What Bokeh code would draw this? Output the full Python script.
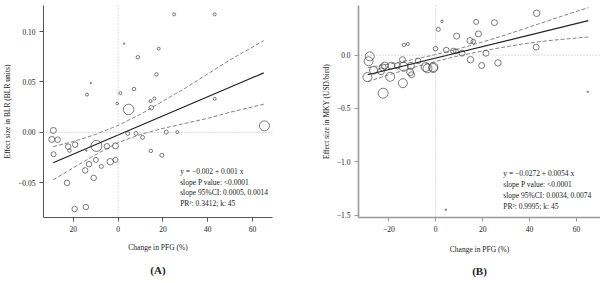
from bokeh.plotting import figure
from bokeh.models import Span, Label, Title, FixedTicker, Range1d
from bokeh.layouts import row
from bokeh.embed import file_html
from bokeh.resources import INLINE

# ---------------- Panel A data ----------------
a_pfg = [25.0, 43.1, 2.7, 18.1, 8.8, -12.2, -13.9, 1.0, 7.1, 17.1, -0.4, 4.7, 14.5, 16.2, 14.8,
         43.1, 65.3, -28.9, -29.6, -27.0, -28.8, -22.3, -21.7, -19.2, -9.7, -14.2, -5.0, -1.2,
         4.3, 8.0, 10.9, 21.5, 26.4, 14.6, 19.5, -9.9, -1.2, -3.5, -13.0, -7.5, -14.7, -10.9,
         -22.8, -19.4, -14.4]
a_effect = [0.117, 0.117, 0.088, 0.083, 0.0745, 0.049, 0.0375, 0.039, 0.043, 0.0575, 0.0287,
            0.0228, 0.031, 0.0336, 0.0245, 0.0333, 0.0065, 0.002, -0.0069, -0.0072, -0.0216,
            -0.0141, -0.018, -0.0121, -0.0134, -0.018, -0.0137, -0.0133, -0.001, -0.001, -0.0049,
            0.0003, 0.0003, -0.0183, -0.0226, -0.0272, -0.0272, -0.029, -0.0314, -0.0337,
            -0.0376, -0.0451, -0.05, -0.0759, -0.0739]
a_weight = [3, 3, 1.5, 3, 3.5, 1.5, 3, 3, 3.5, 3.5, 2.5, 10.5, 3, 3, 4.5, 3, 10, 6, 6, 5.5, 5,
            5.5, 3.5, 5.5, 11, 1.5, 5.5, 6, 4, 4, 4, 4, 3, 3.5, 4, 5, 5, 6.5, 5.5, 4, 5.5, 5.5,
            5.5, 5.5, 5.5]
a_fit_x = [-29, 65]
a_fit_y = [-0.030, 0.059]
a_ci_x = [-29, -20, -10, 0, 10, 20, 30, 40, 50, 65]
a_ci_upper = [-0.014, -0.009, -0.002, 0.007, 0.018, 0.031, 0.044, 0.058, 0.072, 0.091]
a_ci_lower = [-0.047, -0.035, -0.022, -0.010, -0.002, 0.004, 0.009, 0.014, 0.020, 0.028]
a_xticks = [-20, 0, 20, 40, 60]
a_xlabels = ["20", "0", "20", "40", "60"]
a_yticks = [-0.05, 0.0, 0.05, 0.10]
a_ylabels = ["\u22120.05", "0.00", "0.05", "0.10"]
a_stats = ["y = \u22120.002 + 0.001 x", "slope P value: <0.0001",
           "slope 95%CI: 0.0005, 0.0014", "PR\u00b2: 0.3412; k: 45"]

# ---------------- Panel B data ----------------
b_pfg = [43.0, 25.0, 17.2, 2.7, 1.1, 8.9, 18.2, 14.6, 16.0, -13.5, -11.9, 42.8, -0.1, 4.5, 7.5,
         8.6, 11.2, 21.4, -28.1, -28.6, -14.2, -7.5, 14.8, 26.5, 19.6, -21.7, -22.6, -18.9,
         -26.5, -13.7, -10.6, -4.3, -3.5, -1.0, -1.1, -23.3, -19.4, -29.1, -10.9, -10.3, -14.0,
         -22.4, 64.8, 4.3, -16.3]
b_effect = [0.392, 0.304, 0.311, 0.317, 0.241, 0.178, 0.199, 0.136, 0.127, 0.096, 0.105, 0.075,
            0.060, 0.048, 0.039, 0.035, 0.018, 0.018, -0.012, -0.058, -0.043, -0.054, -0.043,
            -0.073, -0.097, -0.097, -0.115, -0.100, -0.142, -0.109, -0.100, -0.112, -0.124,
            -0.112, -0.121, -0.151, -0.203, -0.206, -0.160, -0.184, -0.263, -0.357, -0.344,
            -1.449, -0.100]
b_weight = [6.5, 6, 5, 2.5, 4, 6, 6, 6, 4.5, 3.5, 3, 6, 4.5, 5.5, 5.5, 5, 6, 6, 9, 9, 6, 5.5,
            6.5, 6.5, 6, 7, 7, 7, 8, 9, 7, 9, 9, 9, 9, 7, 9, 9, 7, 6, 9, 10, 1.5, 1.5, 6]
b_fit_x = [-29, 65]
b_fit_y = [-0.184, 0.324]
b_ci_x = [-29, -20, -10, 0, 10, 20, 30, 40, 50, 65]
b_ci_upper = [-0.119, -0.085, -0.043, 0.005, 0.060, 0.123, 0.191, 0.264, 0.338, 0.445]
b_ci_lower = [-0.249, -0.185, -0.119, -0.059, -0.006, 0.039, 0.079, 0.114, 0.140, 0.170]
b_xticks = [-20, 0, 20, 40, 60]
b_xlabels = ["\u221220", "0", "20", "40", "60"]
b_yticks = [-1.5, -1.0, -0.5, 0.0]
b_ylabels = ["\u22121.5", "\u22121.0", "\u22120.5", "0.0"]
b_stats = ["y = \u22120.0272 + 0.0054 x", "slope P value: <0.0001",
           "slope 95%CI: 0.0034, 0.0074", "PR\u00b2: 0.9995; k: 45"]

FONT = "Liberation Serif"
TXT = "#222222"


def make_panel(xr, yr, borders, xs, ys, ws, fx, fy, cx, cu, cl, xt, xl, yt, yl,
               ylabel, stats, stat_anchor, line_gap, panel, axis_color, axis_width,
               title_offset, label_standoff_x, title_standoff):
    left, right, top, bottom = borders
    p = figure(width=300, height=283, x_range=Range1d(*xr), y_range=Range1d(*yr),
               output_backend="svg", toolbar_location=None,
               min_border_left=left, min_border_right=right,
               min_border_top=top, min_border_bottom=bottom)
    p.outline_line_color = None
    p.grid.visible = False
    p.background_fill_color = "white"
    p.border_fill_color = "white"

    p.add_layout(Span(location=0, dimension="height", line_color="#aaaaaa",
                      line_dash="1 2", line_width=0.8))
    p.add_layout(Span(location=0, dimension="width", line_color="#aaaaaa",
                      line_dash="1 2", line_width=0.8))

    p.scatter(xs, ys, size=ws, marker="circle", fill_color=None,
              line_color="#444444", line_width=0.7)
    p.line(fx, fy, line_color="#222222", line_width=1.2)
    p.line(cx, cu, line_color="#666666", line_width=0.8, line_dash="4 2")
    p.line(cx, cl, line_color="#666666", line_width=0.8, line_dash="4 2")

    for ax in (p.xaxis[0], p.yaxis[0]):
        ax.axis_line_color = axis_color
        ax.axis_line_width = axis_width
        ax.major_tick_line_color = axis_color
        ax.major_tick_line_width = 1
        ax.major_tick_out = 4
        ax.major_tick_in = 0
        ax.minor_tick_line_color = None
        ax.major_label_text_font = FONT
        ax.major_label_text_font_size = "7.5px"
        ax.major_label_text_color = TXT
        ax.axis_label_text_font = FONT
        ax.axis_label_text_font_size = "7.5px"
        ax.axis_label_text_font_style = "normal"
        ax.axis_label_text_color = TXT
        ax.major_label_standoff = 4

    p.xaxis.ticker = FixedTicker(ticks=xt)
    p.xaxis.major_label_overrides = {t: l for t, l in zip(xt, xl)}
    p.yaxis.ticker = FixedTicker(ticks=yt)
    p.yaxis.major_label_overrides = {t: l for t, l in zip(yt, yl)}
    p.xaxis.axis_label = "Change in PFG (%)"
    p.xaxis.axis_label_standoff = label_standoff_x
    p.yaxis.axis_label = ylabel
    p.yaxis.axis_label_standoff = 3

    for i, s in enumerate(stats):
        p.add_layout(Label(x=stat_anchor[0], y=stat_anchor[1], y_offset=-i * line_gap,
                           text=s, text_font=FONT, text_font_size="7.5px",
                           text_color=TXT, text_baseline="middle", text_align="left"))

    t = Title(text=panel, align="center", text_font=FONT, text_font_size="11px",
              text_font_style="bold", text_color=TXT, offset=title_offset,
              standoff=title_standoff)
    p.add_layout(t, "below")
    return p


pa = make_panel((-33.3, 68.9), (-0.0843, 0.1258), (41, 28, 5, 64),
                a_pfg, a_effect, a_weight, a_fit_x, a_fit_y, a_ci_x, a_ci_upper, a_ci_lower,
                a_xticks, a_xlabels, a_yticks, a_ylabels,
                "Effect size in BLR (BLR units)", a_stats, (27.7, -0.039), 10.6, "(A)",
                "#555555", 1, -14, 8, 15)

pb = make_panel((-32.9, 70.2), (-1.522, 0.465), (58, 0, 3, 61),
                b_pfg, b_effect, b_weight, b_fit_x, b_fit_y, b_ci_x, b_ci_upper, b_ci_lower,
                b_xticks, b_xlabels, b_yticks, b_ylabels,
                "Effect size in MKY (USD/bird)", b_stats, (28.8, -1.107), 11.2, "(B)",
                "#9a9a9a", 1.6, -31, 10, 12)

layout = row(pa, pb)
open("out.html", "w").write(file_html(layout, INLINE))
